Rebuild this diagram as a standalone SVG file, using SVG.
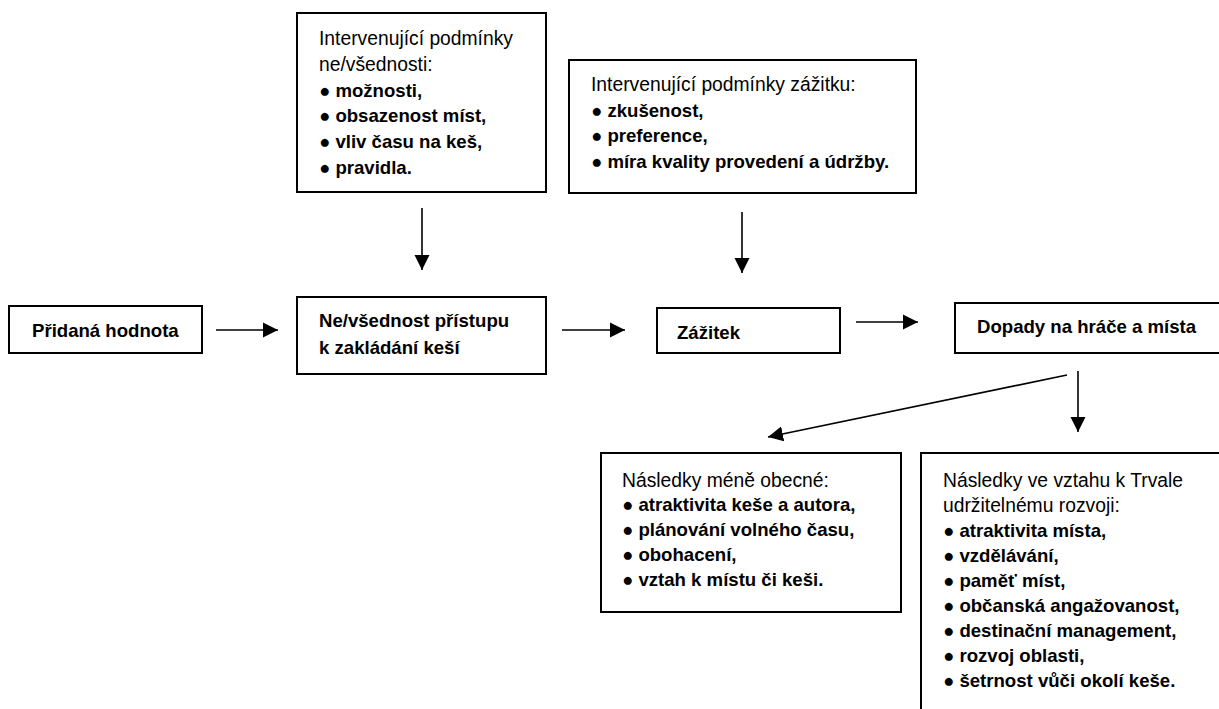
<svg xmlns="http://www.w3.org/2000/svg" width="1219" height="709" viewBox="0 0 1219 709">
<style>
.box{fill:#fff;stroke:#000;stroke-width:2}
.t{font-family:"Liberation Sans",Arial,sans-serif;font-size:19.3px;fill:#000}
.b{font-weight:bold;font-size:18.6px}
.c{stroke:#000;stroke-width:1.6;fill:none;marker-end:url(#ah)}
</style>
<defs>
<marker id="ah" markerUnits="userSpaceOnUse" markerWidth="16" markerHeight="16" viewBox="0 0 16 16" refX="15" refY="8" orient="auto">
<path d="M0,0.5 L15,8 L0,15.5 Z" fill="#000"/>
</marker>
</defs>
<rect width="1219" height="709" fill="#fff"/>
<g id="connectors">
<line class="c" x1="422" y1="208" x2="422" y2="270"/>
<line class="c" x1="742" y1="212" x2="742" y2="273"/>
<line class="c" x1="216" y1="330" x2="278" y2="330"/>
<line class="c" x1="562" y1="330" x2="625" y2="330"/>
<line class="c" x1="856" y1="322" x2="918" y2="322"/>
<line class="c" x1="1067" y1="375" x2="768" y2="437"/>
<line class="c" x1="1078" y1="371" x2="1078" y2="432"/>
</g>
<g id="node-podminky-nevsednosti">
<rect class="box" x="297" y="13" width="249" height="179"/>
<text class="t" x="319" y="45">Intervenující podmínky</text>
<text class="t" x="319" y="71">ne/všednosti:</text>
<text class="t b" x="319" y="97">● možnosti,</text>
<text class="t b" x="319" y="122">● obsazenost míst,</text>
<text class="t b" x="319" y="148">● vliv času na keš,</text>
<text class="t b" x="319" y="174">● pravidla.</text>
</g>
<g id="node-podminky-zazitku">
<rect class="box" x="569" y="60" width="347" height="133"/>
<text class="t" x="591" y="91">Intervenující podmínky zážitku:</text>
<text class="t b" x="591" y="117">● zkušenost,</text>
<text class="t b" x="591" y="142">● preference,</text>
<text class="t b" x="591" y="168">● míra kvality provedení a údržby.</text>
</g>
<g id="node-pridana-hodnota">
<rect class="box" x="9" y="306" width="193" height="47"/>
<text class="t b" x="32" y="337">Přidaná hodnota</text>
</g>
<g id="node-nevsednost">
<rect class="box" x="297" y="297" width="249" height="77"/>
<text class="t b" x="319" y="327">Ne/všednost přístupu</text>
<text class="t b" x="319" y="354">k zakládání keší</text>
</g>
<g id="node-zazitek">
<rect class="box" x="657" y="308" width="183" height="45"/>
<text class="t b" x="677" y="339">Zážitek</text>
</g>
<g id="node-dopady">
<rect class="box" x="955" y="303" width="280" height="50"/>
<text class="t b" x="977" y="333">Dopady na hráče a místa</text>
</g>
<g id="node-nasledky-obecne">
<rect class="box" x="601" y="453" width="300" height="159"/>
<text class="t" x="622" y="487">Následky méně obecné:</text>
<text class="t b" x="622" y="511">● atraktivita keše a autora,</text>
<text class="t b" x="622" y="536">● plánování volného času,</text>
<text class="t b" x="622" y="561">● obohacení,</text>
<text class="t b" x="622" y="586">● vztah k místu či keši.</text>
</g>
<g id="node-nasledky-tur">
<rect class="box" x="921" y="453" width="320" height="280"/>
<text class="t" x="943" y="487">Následky ve vztahu k Trvale</text>
<text class="t" x="943" y="512">udržitelnému rozvoji:</text>
<text class="t b" x="943" y="537">● atraktivita místa,</text>
<text class="t b" x="943" y="562">● vzdělávání,</text>
<text class="t b" x="943" y="587">● paměť míst,</text>
<text class="t b" x="943" y="612">● občanská angažovanost,</text>
<text class="t b" x="943" y="637">● destinační management,</text>
<text class="t b" x="943" y="662">● rozvoj oblasti,</text>
<text class="t b" x="943" y="687">● šetrnost vůči okolí keše.</text>
</g>
</svg>
